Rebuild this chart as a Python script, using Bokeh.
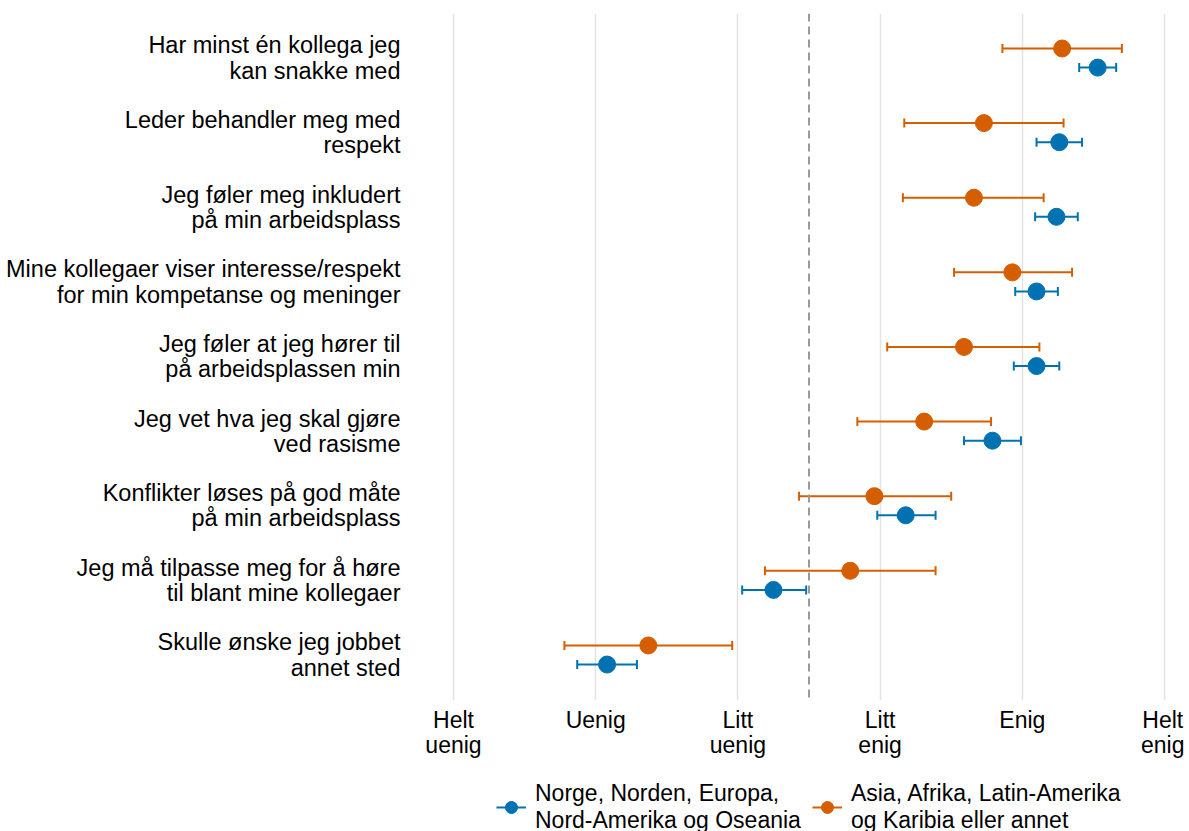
from bokeh.plotting import figure
from bokeh.models import (ColumnDataSource, FixedTicker, Span, Legend, LegendItem, Range1d)
from bokeh.layouts import column
from bokeh.embed import file_html
from bokeh.resources import INLINE
import math

# ---- data ----
statements = [
    "Har minst én kollega jeg\nkan snakke med",
    "Leder behandler meg med\nrespekt",
    "Jeg føler meg inkludert\npå min arbeidsplass",
    "Mine kollegaer viser interesse/respekt\nfor min kompetanse og meninger",
    "Jeg føler at jeg hører til\npå arbeidsplassen min",
    "Jeg vet hva jeg skal gjøre\nved rasisme",
    "Konflikter løses på god måte\npå min arbeidsplass",
    "Jeg må tilpasse meg for å høre\ntil blant mine kollegaer",
    "Skulle ønske jeg jobbet\nannet sted",
]
group_names = ["Norge, Norden, Europa,\nNord-Amerika og Oseania",
               "Asia, Afrika, Latin-Amerika\nog Karibia eller annet"]

west_mean = [5.53, 5.26, 5.24, 5.10, 5.10, 4.79, 4.18, 3.25, 2.08]
west_low  = [5.40, 5.10, 5.09, 4.95, 4.94, 4.59, 3.98, 3.03, 1.87]
west_high = [5.66, 5.42, 5.39, 5.25, 5.26, 4.99, 4.39, 3.48, 2.29]

other_mean = [5.28, 4.73, 4.66, 4.93, 4.59, 4.31, 3.96, 3.79, 2.37]
other_low  = [4.86, 4.17, 4.16, 4.52, 4.05, 3.84, 3.43, 3.19, 1.78]
other_high = [5.70, 5.29, 5.15, 5.35, 5.12, 4.78, 4.50, 4.39, 2.96]

x_ticks = [1, 2, 3, 4, 5, 6]
x_tick_labels = ["Helt\nuenig", "Uenig", "Litt\nuenig", "Litt\nenig", "Enig", "Helt\nenig"]
midpoint = 3.5

BLUE = "#0072B2"
ORANGE = "#D55E00"
FONT = "Liberation Sans"
FS = "23px"
FSY = "23.5px"

n = len(statements)
row_y = [n - 1 - i for i in range(n)]
off = 0.128

src_w = ColumnDataSource(dict(y=[r - off for r in row_y], m=west_mean, lo=west_low, hi=west_high))
src_o = ColumnDataSource(dict(y=[r + off for r in row_y], m=other_mean, lo=other_low, hi=other_high))

p = figure(frame_width=750, frame_height=687, output_backend="svg", toolbar_location=None,
           x_range=Range1d(0.768, 6.042), y_range=Range1d(-0.61, n - 1 + 0.597),
           min_border_top=13, min_border_right=14, min_border_left=420, min_border_bottom=0)
p.outline_line_color = None
p.background_fill_color = "white"
p.border_fill_color = "white"

p.xgrid.ticker = FixedTicker(ticks=x_ticks)
p.xgrid.grid_line_color = "#e3e3e3"
p.xgrid.grid_line_width = 1.5
p.ygrid.grid_line_color = None

p.xaxis.ticker = FixedTicker(ticks=x_ticks)
p.xaxis.major_label_overrides = {t: l for t, l in zip(x_ticks, x_tick_labels)}
p.yaxis.ticker = FixedTicker(ticks=row_y)
p.yaxis.major_label_overrides = {r: s for r, s in zip(row_y, statements)}
for ax in (p.xaxis, p.yaxis):
    ax.axis_line_color = None
    ax.major_tick_line_color = None
    ax.minor_tick_line_color = None
    ax.major_label_text_font = FONT
    ax.major_label_text_color = "black"
    ax.major_label_text_line_height = 0.97
p.xaxis.major_label_text_font_size = FS
p.yaxis.major_label_text_font_size = FSY
p.xaxis.major_label_standoff = 0
p.yaxis.major_label_standoff = 14

p.add_layout(Span(location=midpoint, dimension="height", line_color="#9a9a9a",
                  line_width=2, line_dash="8 5"))

for src, col in ((src_w, BLUE), (src_o, ORANGE)):
    p.segment(x0="lo", x1="hi", y0="y", y1="y", source=src, line_color=col, line_width=2)
    p.scatter(x="lo", y="y", source=src, marker="dash", angle=math.pi / 2, size=9,
              line_color=col, line_width=2)
    p.scatter(x="hi", y="y", source=src, marker="dash", angle=math.pi / 2, size=9,
              line_color=col, line_width=2)
    p.scatter(x="m", y="y", source=src, marker="circle", size=17,
              fill_color=col, line_color=col)

# ---- legend strip below the chart (frames are aligned by the column) ----
lp = figure(frame_width=750, frame_height=74, output_backend="svg", toolbar_location=None,
            x_range=Range1d(0, 1), y_range=Range1d(0, 1),
            x_axis_location=None, y_axis_location=None,
            min_border_top=0, min_border_bottom=0, min_border_right=14, min_border_left=420)
lp.outline_line_color = None
lp.grid.grid_line_color = None
items = []
for name, col in zip(group_names, (BLUE, ORANGE)):
    # off-range placeholder so that the legend has a glyph to draw
    ph = ColumnDataSource(dict(x=[-5], y=[-5], x1=[-4]))
    seg = lp.segment(x0="x", x1="x1", y0="y", y1="y", source=ph, line_color=col, line_width=2)
    dot = lp.scatter(x="x", y="y", source=ph, marker="circle", size=17,
                     fill_color=col, line_color=col)
    items.append(LegendItem(label=name, renderers=[seg, dot]))

legend = Legend(items=items, orientation="horizontal", location=(76, 0))
legend.label_text_font = FONT
legend.label_text_font_size = FS
legend.label_text_color = "black"
legend.label_text_line_height = 0.84
legend.border_line_color = None
legend.background_fill_alpha = 0
legend.glyph_width = 30
legend.glyph_height = 36
legend.label_standoff = 9
legend.spacing = 11
legend.padding = 0
legend.margin = 0
lp.add_layout(legend, "center")

open("out.html", "w").write(file_html(column(p, lp), INLINE))
